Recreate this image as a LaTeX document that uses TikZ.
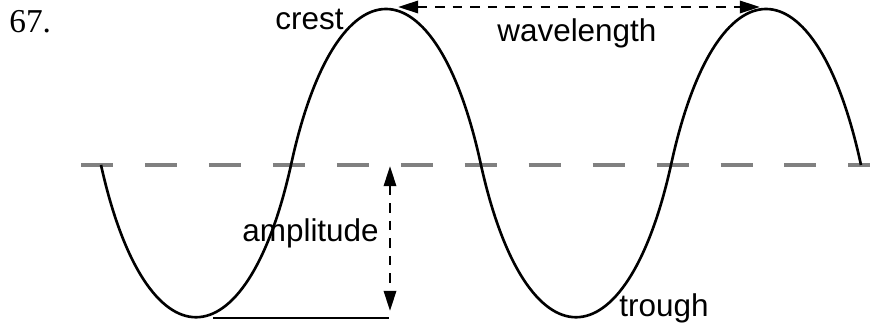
\documentclass[tikz,border=0pt]{standalone}
\usepackage{fontspec}
\setmainfont{Liberation Sans}
\newfontfamily\itemfont{Liberation Serif}
\usetikzlibrary{arrows.meta}

\begin{document}
\begin{tikzpicture}[x=0.02cm, y=-0.02cm,
  wave/.style={line width=1.5pt, black},
  restline/.style={line width=2.8pt, gray, dash pattern=on 18.2pt off 18.2pt},
  measure/.style={line width=1.4pt, dash pattern=on 5.4pt off 4.6pt,
    {Triangle[length=11.5pt,width=7pt]}-{Triangle[length=11.5pt,width=7pt]}},
  lbl/.style={font=\fontsize{17.9}{20}\selectfont, inner sep=0pt}]
\useasboundingbox (0,0) rectangle (870,323);
%% ---- rest position ----
\coordinate (rest-l) at (81,165);
\coordinate (rest-r) at (870,165);
\draw[restline] (rest-l) -- (rest-r);
%% ---- the wave ----
\draw[wave] (101,165) .. controls +(45,203) and +(-45,203) .. (291,165)
  .. controls +(45,-208) and +(-45,-208) .. (481,165)
  .. controls +(45,203) and +(-45,203) .. (671,165)
  .. controls +(45,-208) and +(-45,-208) .. (861,165);
%% ---- wavelength ----
\coordinate (crest-a) at (398,7);
\coordinate (crest-b) at (760,7);
\draw[measure] (crest-a) -- (crest-b);
%% ---- amplitude ----
\coordinate (amp-top) at (390,166);
\coordinate (amp-bot) at (390,311);
\draw[measure] (amp-top) -- (amp-bot);
\coordinate (base-l) at (213,318);
\coordinate (base-r) at (389,318);
\draw[wave] (base-l) -- (base-r);
%% ---- labels ----
\node[font=\itemfont\fontsize{19}{21}\selectfont, inner sep=0pt, anchor=base west] (num) at (9,33) {67.};
\node[lbl, anchor=base east] (crest) at (344,30) {crest};
\node[lbl, anchor=base west] (wavelength) at (497,42) {wavelength};
\node[lbl, anchor=base west] (amplitude) at (242,242) {amplitude};
\node[lbl, anchor=base west] (trough) at (619,317) {trough};
\end{tikzpicture}
\end{document}
